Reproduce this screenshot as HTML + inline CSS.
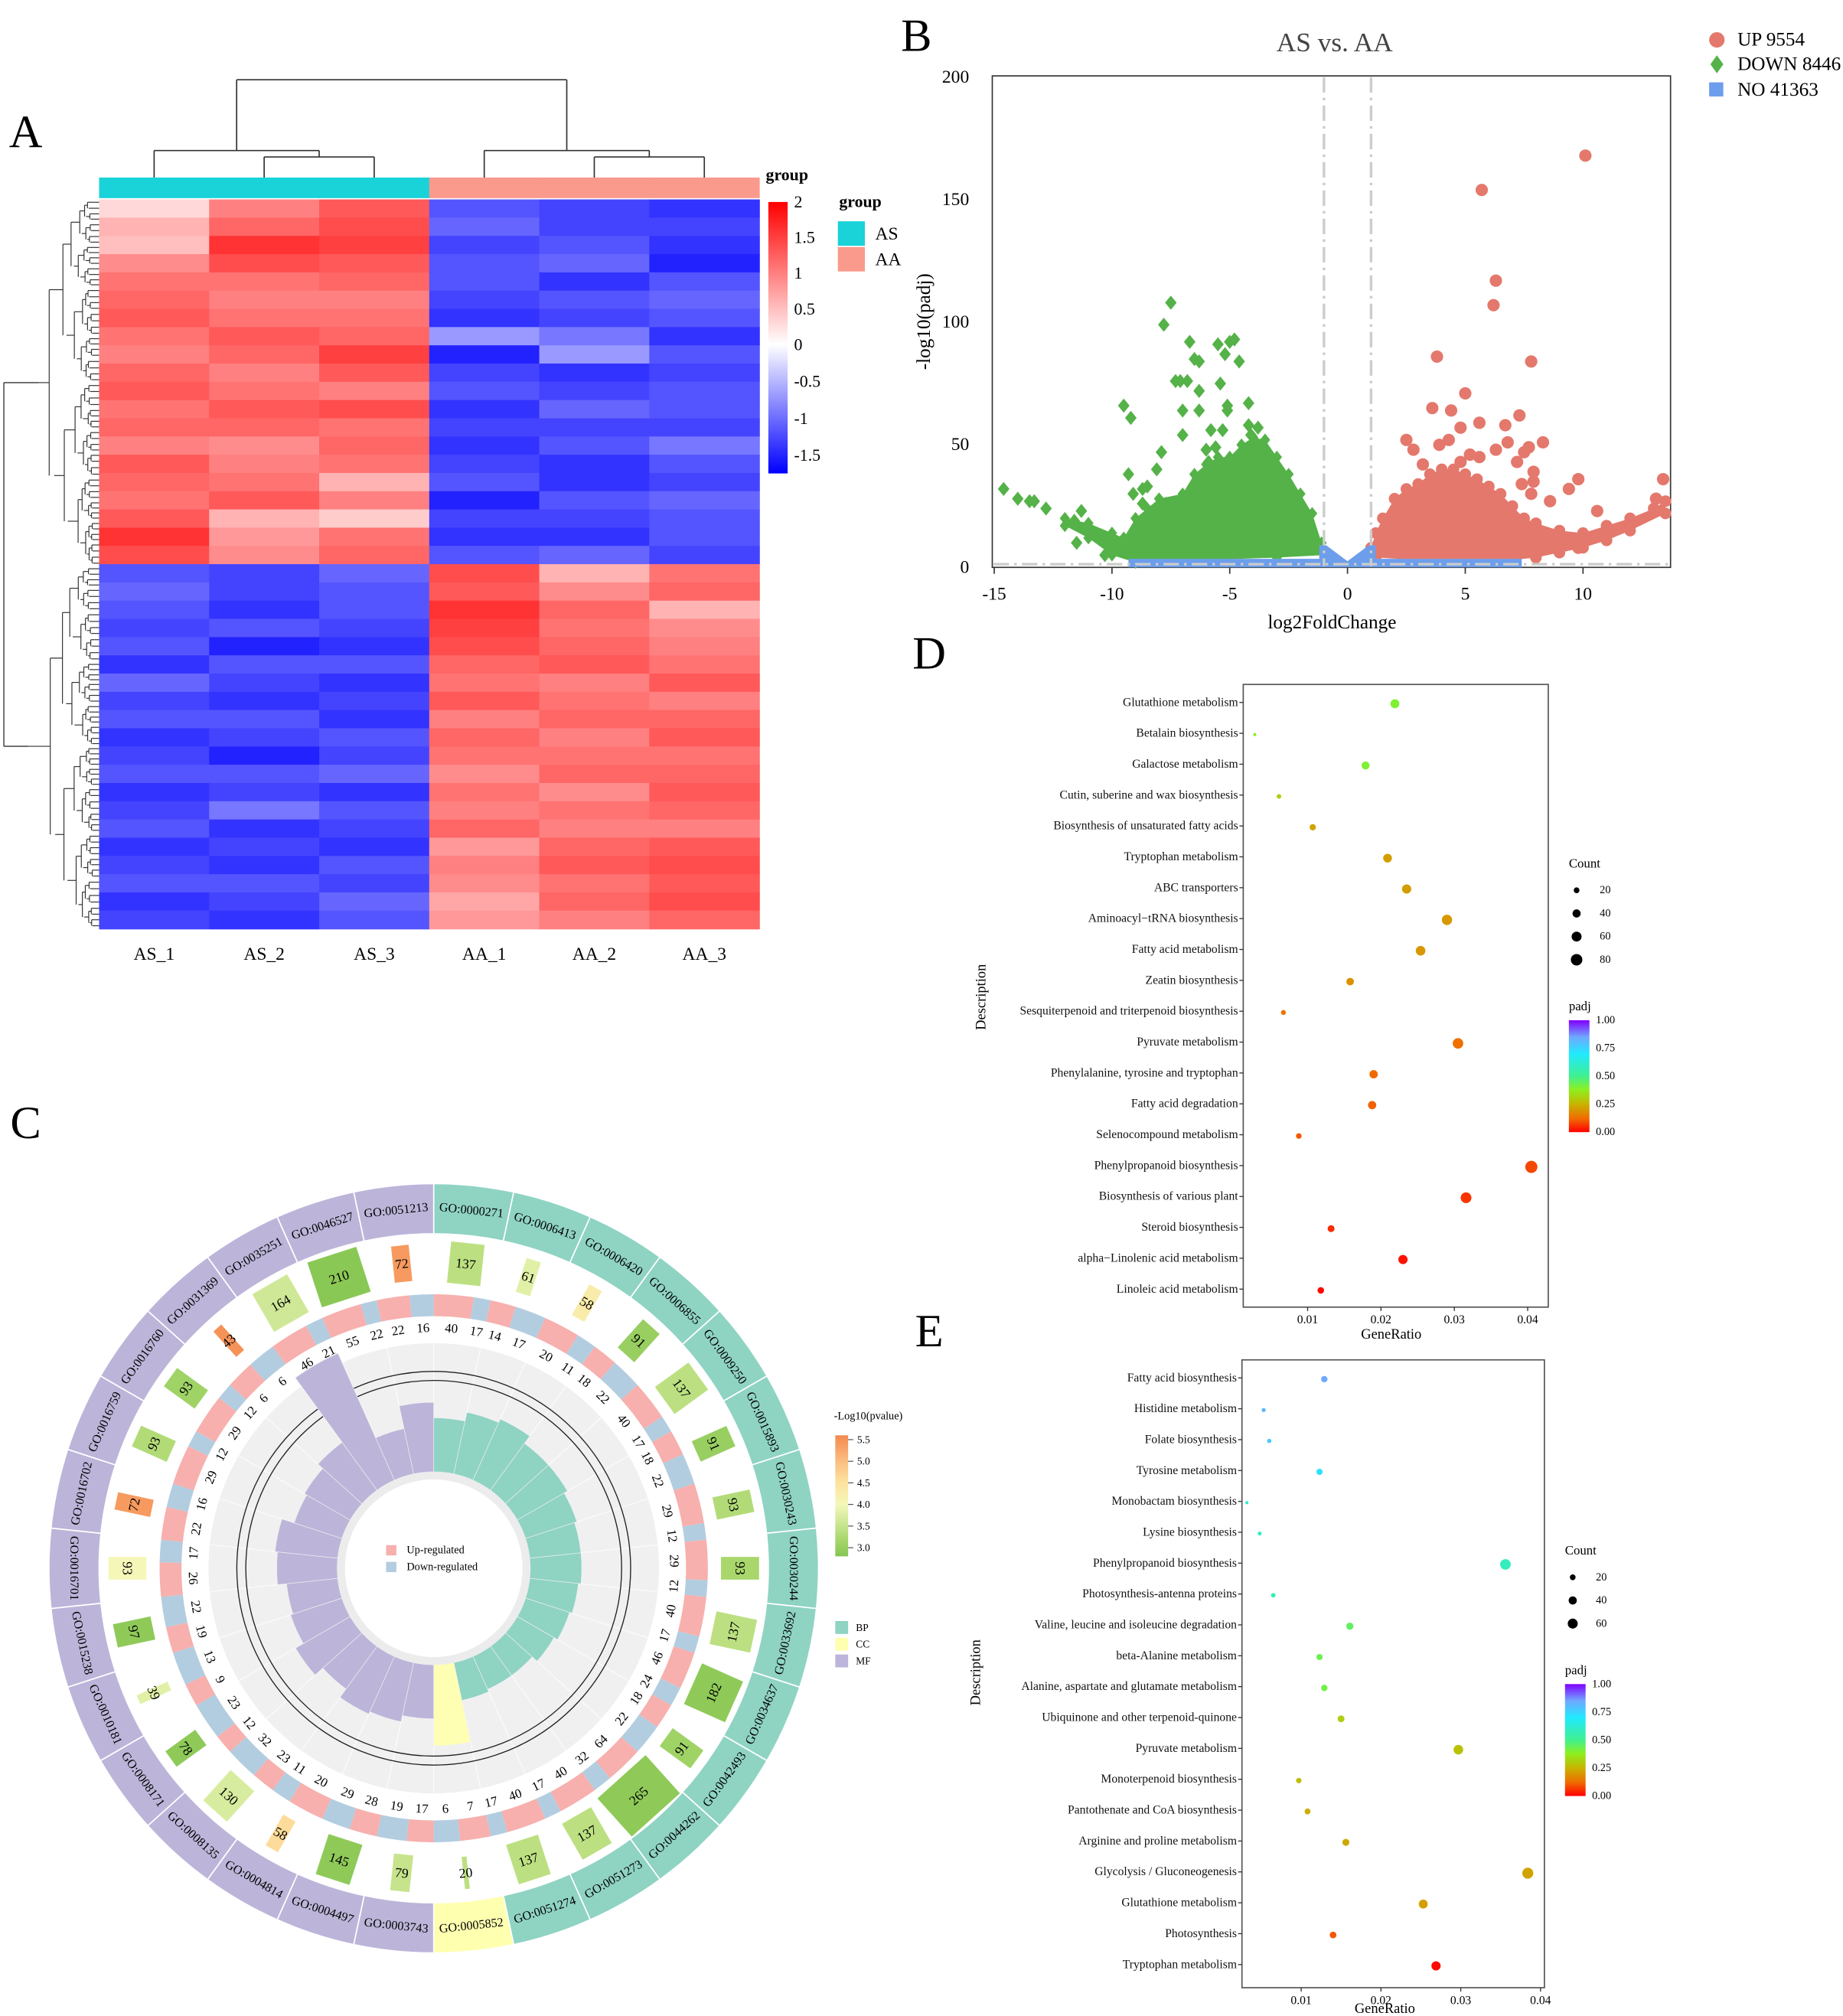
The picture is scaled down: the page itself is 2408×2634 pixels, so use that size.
<!DOCTYPE html>
<html><head><meta charset="utf-8"><title>Transcriptome figure</title>
<style>
html,body{margin:0;padding:0;background:#fff;}
svg{display:block;font-family:"Liberation Serif",serif;}
</style></head>
<body>
<svg id="fig" xmlns="http://www.w3.org/2000/svg" width="2408" height="2634" viewBox="0 0 1432 1567" preserveAspectRatio="none">
<rect x="0" y="0" width="1432" height="1567" fill="#fff"/>
</svg>
<script>
// ---------------- DATA ----------------
const heatCols = ["AS_1","AS_2","AS_3","AA_1","AA_2","AA_3"];
const heatValues = [
[0.3,1.0,1.3,-1.0,-1.1,-1.2],[0.6,1.2,1.4,-0.9,-1.1,-1.1],[0.5,1.6,1.5,-1.1,-1.0,-1.2],[0.9,1.4,1.3,-1.0,-0.9,-1.3],
[1.1,1.1,1.2,-1.0,-1.2,-1.0],[1.2,1.0,1.0,-1.1,-1.0,-0.9],[1.3,1.1,1.1,-1.2,-1.1,-1.0],[1.1,1.3,1.2,-0.6,-0.8,-1.2],
[1.0,1.2,1.5,-1.3,-0.6,-1.0],[1.2,1.0,1.3,-1.1,-1.2,-1.1],[1.3,1.1,1.0,-1.0,-1.1,-1.0],[1.1,1.3,1.4,-1.2,-0.9,-1.0],
[1.2,1.2,1.1,-1.1,-1.1,-1.1],[1.0,0.9,1.2,-1.2,-1.0,-0.8],[1.3,1.0,1.1,-1.1,-1.2,-1.0],[1.2,1.1,0.6,-1.0,-1.2,-1.1],
[1.1,1.3,1.0,-1.3,-1.0,-0.9],[1.3,0.6,0.4,-1.1,-1.1,-1.0],[1.6,0.8,1.1,-1.2,-1.2,-1.0],[1.4,0.9,1.2,-1.0,-0.9,-1.1],
[-1.0,-1.1,-0.9,1.4,0.6,1.1],[-0.9,-1.1,-1.0,1.3,0.9,1.2],[-1.0,-1.2,-1.0,1.6,1.2,0.6],[-1.1,-1.0,-1.1,1.5,1.1,0.9],
[-1.0,-1.3,-1.2,1.4,1.2,1.0],[-1.2,-1.0,-1.0,1.2,1.3,1.1],[-0.9,-1.1,-1.2,1.1,1.0,1.3],[-1.1,-1.2,-1.1,1.3,1.1,1.0],
[-1.0,-1.0,-1.2,1.0,1.2,1.2],[-1.2,-1.1,-1.0,1.2,1.0,1.3],[-1.1,-1.3,-1.1,1.1,1.1,1.1],[-1.0,-1.0,-0.9,0.9,1.2,1.2],
[-1.2,-1.1,-1.2,1.1,0.9,1.3],[-1.1,-0.8,-1.0,1.0,1.1,1.2],[-1.0,-1.2,-1.1,1.2,1.0,1.0],[-1.2,-1.1,-1.2,0.8,1.2,1.3],
[-1.1,-1.2,-1.0,1.0,1.3,1.4],[-1.0,-1.0,-1.1,0.9,1.1,1.3],[-1.2,-1.1,-0.9,0.7,1.2,1.4],[-1.1,-1.2,-1.0,0.8,1.0,1.2]
];
const heatTicks = [2,1.5,1,0.5,0,-0.5,-1,-1.5];

const volXTicks = [-15,-10,-5,0,5,10];
const volYTicks = [0,50,100,150,200];
const downX = [-14.6,-14,-13.5,-13.3,-12.8,-11.3,-11.6,-11.5,-9.5,-9.2,-9.3,-9.1,-8.7,-8.5,-8.7,-7.9,-8.1,-7.7,-7.5,-7.8,-7.3,-7.1,-7.0,-7.0,-6.7,-6.8,-6.5,-6.3,-6.3,-6.3,-5.9,-5.8,-5.5,-5.4,-5.2,-5.0,-4.8,-5.1,-5.1,-4.6,-4.2,-4.2,-4.1,-3.8,-3.7,-3.4,-5.3,-5.6,-6.0,-10.3,-9.9];
const downY = [32,28,27,27,24,23,19,10,66,61,38,30,32,33,26,47,40,26,108,99,76,76,64,54,92,76,85,84,72,64,43,56,91,75,87,92,93,66,64,84,67,58,54,57,44,36,56,49,48,5,7];
const upX = [10.1,5.7,6.3,6.2,3.8,7.8,5.0,3.6,4.4,7.3,5.6,6.7,4.8,4.3,2.5,2.8,8.3,6.8,6.3,7.7,7.5,3.2,4.8,5.6,7.2,7.9,7.9,9.8,9.4,8.6,13.4,13.1,10.6,9.8,7.8,7.4,3.9,5.2];
const upY = [168,154,117,107,86,84,71,65,64,62,59,58,57,52,52,48,51,51,48,49,47,42,43,45,43,39,35,36,32,27,36,28,23,8,30,34,50,46];
const downEnvX = [-12,-11,-10,-9.5,-9,-8.5,-8,-7,-6.5,-6,-5.5,-5,-4.5,-4,-3.5,-3,-2.5,-2,-1.5,-1.1,-1.0,-1.0,-3,-6,-8,-9,-10,-11,-12];
const downEnvY = [20,18,14,12,20,24,28,30,38,42,45,45,50,53,52,45,38,30,22,10,6,5,4,3,3,2,5,12,17];
const upEnvX = [1.0,1.2,1.5,2,2.5,3,3.5,4,4.5,5,5.5,6,6.5,7,7.5,8,9,10,11,12,13,13.5,13.5,12,11,10,9,8,7,5,3,1.2];
const upEnvY = [8,14,20,28,32,34,38,40,40,38,36,33,30,25,20,18,15,14,17,20,24,27,22,15,11,8,6,4,3,3,3,4];
const noEnvX = [-9.3,-9.3,-1.2,-1.2,-0.9,0,0.9,1.2,1.2,7.4,7.4];
const noEnvY = [0,3.5,3.5,9,9,2.5,9,9,3.5,3.5,0];

const goIds = ["GO:0000271","GO:0006413","GO:0006420","GO:0006855","GO:0009250","GO:0015893","GO:0030243","GO:0030244","GO:0033692","GO:0034637","GO:0042493","GO:0044262","GO:0051273","GO:0051274","GO:0005852","GO:0003743","GO:0004497","GO:0004814","GO:0008135","GO:0008171","GO:0010181","GO:0015238","GO:0016701","GO:0016702","GO:0016759","GO:0016760","GO:0031369","GO:0035251","GO:0046527","GO:0051213"];
const goCategory = ["BP","BP","BP","BP","BP","BP","BP","BP","BP","BP","BP","BP","BP","BP","CC","MF","MF","MF","MF","MF","MF","MF","MF","MF","MF","MF","MF","MF","MF","MF"];
const goCounts = [137,61,58,91,137,91,93,93,137,182,91,265,137,137,20,79,145,58,130,78,39,97,93,72,93,93,43,164,210,72];
const goLogP = [3.4,3.8,4.3,3.0,3.4,3.0,3.3,3.2,3.4,2.9,3.1,2.9,3.4,3.4,3.4,3.5,2.9,4.6,3.7,2.9,3.8,2.9,4.0,5.4,3.3,3.1,5.5,3.6,2.85,5.4];
const goUp = [40,14,20,18,40,18,29,29,40,46,18,64,40,40,7,17,28,20,23,12,9,19,26,22,29,29,6,46,55,22];
const goDown = [17,17,11,22,17,22,12,12,17,24,22,32,17,17,6,19,29,11,32,23,13,22,17,16,12,12,6,21,22,16];
const goRich = [42,49,52,45,45,42,40,40,38,36,33,28,28,30,63,42,47,49,41,49,42,40,47,49,39,41,46,108,36,54];
const cLegendTicks = [5.5,5.0,4.5,4.0,3.5,3.0];

const dLabels = ["Glutathione metabolism","Betalain biosynthesis","Galactose metabolism","Cutin, suberine and wax biosynthesis","Biosynthesis of unsaturated fatty acids","Tryptophan metabolism","ABC transporters","Aminoacyl\u2212tRNA biosynthesis","Fatty acid metabolism","Zeatin biosynthesis","Sesquiterpenoid and triterpenoid biosynthesis","Pyruvate metabolism","Phenylalanine, tyrosine and tryptophan","Fatty acid degradation","Selenocompound metabolism","Phenylpropanoid biosynthesis","Biosynthesis of various plant","Steroid biosynthesis","alpha\u2212Linolenic acid metabolism","Linoleic acid metabolism"];
const dRatio = [0.0219,0.0028,0.0179,0.0061,0.0107,0.0209,0.0235,0.029,0.0254,0.0158,0.0067,0.0305,0.019,0.0188,0.0088,0.0405,0.0316,0.0132,0.023,0.0118];
const dCount = [48,6,39,13,24,46,52,64,56,35,15,67,42,41,19,89,70,29,51,26];
const dPadj = [0.40,0.38,0.40,0.31,0.22,0.21,0.21,0.2,0.2,0.19,0.14,0.13,0.12,0.11,0.1,0.08,0.06,0.05,0.02,0.01];
const eLabels = ["Fatty acid biosynthesis","Histidine metabolism","Folate biosynthesis","Tyrosine metabolism","Monobactam biosynthesis","Lysine biosynthesis","Phenylpropanoid biosynthesis","Photosynthesis-antenna proteins","Valine, leucine and isoleucine degradation","beta-Alanine metabolism","Alanine, aspartate and glutamate metabolism","Ubiquinone and other terpenoid-quinone","Pyruvate metabolism","Monoterpenoid biosynthesis","Pantothenate and CoA biosynthesis","Arginine and proline metabolism","Glycolysis / Gluconeogenesis","Glutathione metabolism","Photosynthesis","Tryptophan metabolism"];
const eRatio = [0.0129,0.0053,0.006,0.0123,0.0032,0.0048,0.0356,0.0065,0.0161,0.0123,0.0129,0.015,0.0297,0.0097,0.0108,0.0156,0.0384,0.0253,0.014,0.0269];
const eCount = [25,10,11,23,6,9,68,12,31,23,25,28,56,18,21,30,73,48,27,51];
const ePadj = [0.85,0.82,0.78,0.72,0.6,0.6,0.58,0.57,0.45,0.43,0.42,0.31,0.28,0.27,0.24,0.23,0.22,0.21,0.1,0.01];
const dotXTicks = [0.01,0.02,0.03,0.04];
const countLegendD = [20,40,60,80];
const countLegendE = [20,40,60];
const padjTicks = [1.00,0.75,0.50,0.25,0.00];

// ---------------- HELPERS ----------------
const NS='http://www.w3.org/2000/svg';
const root=document.getElementById('fig');
function mk(tag,attrs,parent){const e=document.createElementNS(NS,tag);for(const k in attrs)e.setAttribute(k,attrs[k]);(parent||root).appendChild(e);return e;}
function txt(s,x,y,attrs,parent){const e=mk('text',Object.assign({x:x,y:y},attrs||{}),parent);e.textContent=s;return e;}
function lerpHex(a,b,t){const pa=[1,3,5].map(i=>parseInt(a.substr(i,2),16)),pb=[1,3,5].map(i=>parseInt(b.substr(i,2),16));return 'rgb('+pa.map((v,i)=>Math.round(v+(pb[i]-v)*t)).join(',')+')';}
function gradColor(stops,v){if(v<=stops[0][0])return stops[0][1];for(let i=1;i<stops.length;i++){if(v<=stops[i][0]){const t=(v-stops[i-1][0])/(stops[i][0]-stops[i-1][0]);return lerpHex(stops[i-1][1],stops[i][1],t);}}return stops[stops.length-1][1];}
function group(name){const g=mk('g',{});return g;}

// panel letters
[["A",20,103],["B",712,28],["C",20,873],["D",722,508],["E",722,1035]].forEach(p=>{
  const t=txt(p[0],p[1],p[2],{'font-size':36,'text-anchor':'middle','dominant-baseline':'central',fill:'#000'});
  
  
});

// ---------------- PANEL A: HEATMAP ----------------
(function(){
  const g=group('heatmap-panel');
  const x0=77,x1=590,y0=155,y1=722;
  const cw=(x1-x0)/heatCols.length, rh=(y1-y0)/heatValues.length;
  function hcol(v){ if(v>=0){const t=Math.min(v/2,1);return lerpHex('#ffffff','#ff0000',t);} const t=Math.min(-v/1.5,1);return lerpHex('#ffffff','#0000ff',t);}
  heatValues.forEach((row,i)=>{row.forEach((v,j)=>{
    const r=mk('rect',{x:x0+j*cw,y:y0+i*rh,width:cw+0.4,height:rh+0.4,fill:hcol(v)},g);
    
    
  });});
  heatCols.forEach((c,j)=>{
    const b=mk('rect',{x:x0+j*cw,y:138,width:cw+0.3,height:16,fill:c.startsWith('AS')?'#19d3d9':'#fa9a8c'},g);
    
    
    const t=txt(c,x0+(j+0.5)*cw,742,{'font-size':14,'text-anchor':'middle','dominant-baseline':'central'},g);
    
    
  });
  const cx=j=>x0+(j+0.5)*cw;
  const dl=[[cx(1),138,cx(1),122],[cx(2),138,cx(2),122],[cx(1),122,cx(2),122],[cx(0),138,cx(0),117],[(cx(1)+cx(2))/2,122,(cx(1)+cx(2))/2,117],[cx(0),117,(cx(1)+cx(2))/2,117],
            [cx(4),138,cx(4),122],[cx(5),138,cx(5),122],[cx(4),122,cx(5),122],[cx(3),138,cx(3),117],[(cx(4)+cx(5))/2,122,(cx(4)+cx(5))/2,117],[cx(3),117,(cx(4)+cx(5))/2,117]];
  const asMid=(cx(0)+(cx(1)+cx(2))/2)/2, aaMid=(cx(3)+(cx(4)+cx(5))/2)/2;
  dl.push([asMid,117,asMid,62],[aaMid,117,aaMid,62],[asMid,62,aaMid,62]);
  const cd=group('column-dendrogram');
  dl.forEach(l=>{const e=mk('line',{x1:l[0],y1:l[1],x2:l[2],y2:l[3],stroke:'#333','stroke-width':1},cd);});
  const rd=group('row-dendrogram');
  const fr=[0.35,0.55,0.45,0.62,0.5,0.4,0.58,0.48,0.66,0.38];
  let k=0;
  function node(ya,yb,x,depth){
    if(depth===0){const ym=(ya+yb)/2;const e=mk('line',{x1:x,y1:ym,x2:77,y2:ym,stroke:'#333','stroke-width':0.7},rd);return ym;}
    const f=fr[(k++)%fr.length];const split=ya+(yb-ya)*(0.4+0.2*fr[(k+3)%fr.length]);
    const cxn=x+(77-x)*f*0.5;
    const a=node(ya,split,cxn,depth-1), b=node(split,yb,cxn+(77-cxn)*0.1,depth-1);
    let e=mk('line',{x1:cxn,y1:a,x2:cxn,y2:b,stroke:'#333','stroke-width':0.7},rd);
    const m=(a+b)/2;
    e=mk('line',{x1:x,y1:m,x2:cxn,y2:m,stroke:'#333','stroke-width':0.7},rd);
    return m;
  }
  const top=node(y0,440,30,6), bot=node(440,y1,22,6);
  let e=mk('line',{x1:3,y1:top,x2:3,y2:bot,stroke:'#333','stroke-width':0.8},rd);
  e=mk('line',{x1:3,y1:top,x2:30,y2:top,stroke:'#333','stroke-width':0.8},rd);
  e=mk('line',{x1:3,y1:bot,x2:22,y2:bot,stroke:'#333','stroke-width':0.8},rd);
  const defs=mk('defs',{});
  const lg=mk('linearGradient',{id:'hmgrad',x1:0,y1:0,x2:0,y2:1},defs);
  mk('stop',{offset:'0','stop-color':'#ff0000'},lg);mk('stop',{offset:'0.525','stop-color':'#ffffff'},lg);mk('stop',{offset:'1','stop-color':'#0000ff'},lg);
  const lgd=group('heatmap-legend');
  let t=txt('group',595,140,{'font-size':13,'font-weight':'bold'},lgd);
  const cb=mk('rect',{x:597,y:157,width:15,height:211,fill:'url(#hmgrad)'},lgd);
  const ys=v=>268-(v/2)*111;
  heatTicks.forEach(v=>{const yy=v>=0?ys(v):268+(-v/1.5)*86;const tt=txt(String(v),617,yy,{'font-size':13,'dominant-baseline':'central'},lgd);});
  t=txt('group',652,161,{'font-size':13,'font-weight':'bold'},lgd);
  [['AS','#19d3d9',172],['AA','#fa9a8c',192]].forEach(a=>{
    const r=mk('rect',{x:651,y:a[2],width:21,height:19,fill:a[1]},lgd);
    const tt=txt(a[0],680,a[2]+10,{'font-size':14,'dominant-baseline':'central'},lgd);
  });
})();

// ---------------- PANEL B: VOLCANO ----------------
(function(){
  const g=group('volcano-panel');
  const xB=v=>1047+v*18.3, yB=v=>441-v*1.905;
  let t=txt('AS vs. AA',1037,33,{'font-size':21,'text-anchor':'middle','dominant-baseline':'central',fill:'#444'},g);
  const frame=mk('rect',{x:771,y:59,width:527,height:382,fill:'#fff',stroke:'#333','stroke-width':1},g);
  function poly(xs,ys,fill,name){const pts=xs.map((x,i)=>xB(x)+','+yB(ys[i])).join(' ');const p=mk('polygon',{points:pts,fill:fill},g);}
  poly(downEnvX,downEnvY,'#54b248','down-cloud');
  poly(upEnvX,upEnvY,'#e4786c','up-cloud');
  downEnvX.forEach((x,i)=>{const cx=xB(x),cy=yB(downEnvY[i]);const d=mk('polygon',{points:`${cx},${cy-5} ${cx+4},${cy} ${cx},${cy+5} ${cx-4},${cy}`,fill:'#54b248'},g);});
  upEnvX.forEach((x,i)=>{const c=mk('circle',{cx:xB(x),cy:yB(upEnvY[i]),r:4.5,fill:'#e4786c'},g);});
  poly(noEnvX,noEnvY,'#6d9eeb','no-change-band');
  downX.forEach((x,i)=>{const cx=xB(x),cy=yB(downY[i]);const d=mk('polygon',{points:`${cx},${cy-5.5} ${cx+4.5},${cy} ${cx},${cy+5.5} ${cx-4.5},${cy}`,fill:'#54b248'},g);});
  upX.forEach((x,i)=>{const c=mk('circle',{cx:xB(x),cy:yB(upY[i]),r:4.8,fill:'#e4786c'},g);});
  [-1,1].forEach(v=>{const l=mk('line',{x1:xB(v),y1:60,x2:xB(v),y2:440,stroke:'#ccc','stroke-width':2,'stroke-dasharray':'12,4,2,4'},g);});
  let l=mk('line',{x1:772,y1:yB(1.3),x2:1297,y2:yB(1.3),stroke:'#ccc','stroke-width':2,'stroke-dasharray':'12,4,2,4'},g);
  volXTicks.forEach(v=>{const tk=mk('line',{x1:xB(v),y1:441,x2:xB(v),y2:446,stroke:'#333'},g);
    const tt=txt(String(v),xB(v),462,{'font-size':14,'text-anchor':'middle','dominant-baseline':'central'},g);});
  volYTicks.forEach(v=>{const tt=txt(String(v),753,yB(v),{'font-size':14,'text-anchor':'end','dominant-baseline':'central'},g);});
  t=txt('log2FoldChange',1035,484,{'font-size':15,'text-anchor':'middle','dominant-baseline':'central'},g);
  t=txt('-log10(padj)',718,250,{'font-size':15,'text-anchor':'middle','dominant-baseline':'central',transform:'rotate(-90 718 250)'},g);
  const lg=group('volcano-legend');
  let c=mk('circle',{cx:1334,cy:31,r:6,fill:'#e4786c'},lg);
  c=mk('polygon',{points:'1334,43 1339,50 1334,57 1329,50',fill:'#54b248'},lg);
  c=mk('rect',{x:1328,y:64,width:11,height:11,fill:'#6d9eeb'},lg);
  [['UP 9554',31],['DOWN 8446',50],['NO 41363',70]].forEach(a=>{const tt=txt(a[0],1350,a[1],{'font-size':15,'dominant-baseline':'central'},lg);});
})();

// ---------------- PANEL C: GO CIRCLE ----------------
(function(){
  const g=group('go-circle-panel');
  const CX=337,CY=1219,N=goIds.length,step=360/N;
  const P=(r,a)=>[CX+r*Math.sin(a*Math.PI/180),CY-r*Math.cos(a*Math.PI/180)];
  function sector(r0,r1,a0,a1){const p1=P(r1,a0),p2=P(r1,a1),p3=P(r0,a1),p4=P(r0,a0);const la=(a1-a0)>180?1:0;
    return `M${p1[0]},${p1[1]} A${r1},${r1} 0 ${la} 1 ${p2[0]},${p2[1]} L${p3[0]},${p3[1]} A${r0},${r0} 0 ${la} 0 ${p4[0]},${p4[1]} Z`;}
  const rot=a=>(a>90&&a<270)?a-180:(a>=270?a-360:a);
  const rotL=a=>(a===270)?90:rot(a);
  const catCol={BP:'#8fd3c3',CC:'#ffffb0',MF:'#bcb5d9'};
  const pStops=[[2.8,'#86c653'],[3.2,'#a9d76c'],[3.6,'#cfe897'],[4.0,'#f4f7b8'],[4.5,'#fde3a0'],[5.0,'#fbbd80'],[5.6,'#f4894f']];
  let e=mk('circle',{cx:CX,cy:CY,r:175,fill:'#f0f0f0'},g);
  for(let i=0;i<N;i++){const a=P(75,i*step),b=P(175,i*step);e=mk('line',{x1:a[0],y1:a[1],x2:b[0],y2:b[1],stroke:'#fafafa','stroke-width':0.8},g);}
  [153,146].forEach(r=>{e=mk('circle',{cx:CX,cy:CY,r:r,fill:'none',stroke:'#222','stroke-width':0.8},g);});
  goIds.forEach((id,i)=>{
    const a0=i*step,a1=(i+1)*step,am=a0+step/2;
    let s=mk('path',{d:sector(260,299,a0,a1),fill:catCol[goCategory[i]],stroke:'#fff','stroke-width':1},g);
    const lp=P(279.5,am);
    let t=txt(id,lp[0],lp[1],{'font-size':9.6,'text-anchor':'middle','dominant-baseline':'central',transform:`rotate(${rotL(am)} ${lp[0]} ${lp[1]})`},g);
    const bp=P(238,am),w=Math.max(3,goCounts[i]*0.19),h=24+goCounts[i]*0.06;
    const bg=mk('g',{transform:`translate(${bp[0]},${bp[1]}) rotate(${rotL(am)})`},g);
    s=mk('rect',{x:-w/2,y:-h/2,width:w,height:h,fill:gradColor(pStops,goLogP[i])},bg);
    t=txt(String(goCounts[i]),0,0,{'font-size':10.5,'text-anchor':'middle','dominant-baseline':'central'},bg);
    const tot=goUp[i]+goDown[i],am2=a0+step*goUp[i]/tot;
    s=mk('path',{d:sector(196,213,a0,am2),fill:'#f7b0ad'},g);
    s=mk('path',{d:sector(196,213,am2,a1),fill:'#b3cde0'},g);
    [[goUp[i],(a0+am2)/2],[goDown[i],(am2+a1)/2]].forEach(q=>{const p=P(187,q[1]);const tt=txt(String(q[0]),p[0],p[1],{'font-size':10,'text-anchor':'middle','dominant-baseline':'central',transform:`rotate(${rotL(q[1])} ${p[0]} ${p[1]})`},g);});
    s=mk('path',{d:sector(75,75+goRich[i],a0,a1),fill:goCategory[i]==='CC'?'#ffffb3':catCol[goCategory[i]],stroke:'#f0f0f0','stroke-width':0.4},g);
  });
  e=mk('circle',{cx:CX,cy:CY,r:75,fill:'#ececec'},g);
  e=mk('circle',{cx:CX,cy:CY,r:69,fill:'#fff'},g);
  [['Up-regulated','#f7b0ad',1205],['Down-regulated','#b3cde0',1218]].forEach(a=>{
    let r=mk('rect',{x:300,y:a[2]-4,width:8,height:8,fill:a[1]},g);
    const tt=txt(a[0],316,a[2],{'font-size':8.5,'dominant-baseline':'central'},g);
  });
  const defs=mk('defs',{});
  const lg=mk('linearGradient',{id:'pgrad',x1:0,y1:0,x2:0,y2:1},defs);
  pStops.slice().reverse().forEach(s=>{mk('stop',{offset:((5.6-s[0])/2.8).toFixed(3),'stop-color':s[1]},lg);});
  const lgg=group('pvalue-legend');
  let t=txt('-Log10(pvalue)',648,1101,{'font-size':8.5,'dominant-baseline':'central'},lgg);
  const yl=v=>1119+(5.5-v)*33.6;
  e=mk('rect',{x:649,y:yl(5.6),width:10,height:yl(2.8)-yl(5.6),fill:'url(#pgrad)'},lgg);
  cLegendTicks.forEach(v=>{e=mk('line',{x1:659,y1:yl(v),x2:663,y2:yl(v),stroke:'#333','stroke-width':0.6},lgg);
    const tt=txt(v.toFixed(1),666,yl(v),{'font-size':8,'dominant-baseline':'central'},lgg);});
  [['BP',1265],['CC',1278],['MF',1291]].forEach(a=>{
    const r=mk('rect',{x:649,y:a[1]-5,width:10,height:10,fill:catCol[a[0]]},lgg);
    const tt=txt(a[0],665,a[1],{'font-size':8,'dominant-baseline':'central'},lgg);
  });
})();

// ---------------- PANELS D & E: DOT PLOTS ----------------
const rainbow=[[0,'#ff0000'],[0.12,'#f06a00'],[0.25,'#c8b400'],[0.38,'#8cf020'],[0.5,'#40f090'],[0.7,'#20eaff'],[0.85,'#70a8ff'],[1,'#8000ff']];
function dotPlot(name,labels,ratios,counts,padj,cfg,countLegend){
  const g=group(name);
  const xs=v=>cfg.x01+(v-0.01)*cfg.k;
  const rs=c=>Math.sqrt(c)*0.5;
  const fr=mk('rect',{x:cfg.left,y:cfg.top,width:cfg.right-cfg.left,height:cfg.bottom-cfg.top,fill:'#fff',stroke:'#555','stroke-width':1},g);
  labels.forEach((lab,i)=>{
    const y=cfg.row0+i*24;
    let e=mk('line',{x1:cfg.left-3,y1:y,x2:cfg.left,y2:y,stroke:'#333','stroke-width':0.8},g);
    const t=txt(lab,cfg.left-4,y,{'font-size':9.3,'text-anchor':'end','dominant-baseline':'central',fill:'#111'},g);
    const c=mk('circle',{cx:xs(ratios[i]),cy:y+1,r:rs(counts[i]),fill:gradColor(rainbow,padj[i])},g);
  });
  dotXTicks.forEach(v=>{let e=mk('line',{x1:xs(v),y1:cfg.bottom,x2:xs(v),y2:cfg.bottom+3,stroke:'#333','stroke-width':0.8},g);
    const t=txt(String(v),xs(v),cfg.bottom+10,{'font-size':9.3,'text-anchor':'middle','dominant-baseline':'central'},g);});
  let t=txt('GeneRatio',cfg.xTitle[0],cfg.xTitle[1],{'font-size':11,'text-anchor':'middle','dominant-baseline':'central'},g);
  t=txt('Description',cfg.yTitle[0],cfg.yTitle[1],{'font-size':11,'text-anchor':'middle','dominant-baseline':'central',transform:`rotate(-90 ${cfg.yTitle[0]} ${cfg.yTitle[1]})`},g);
  const L=cfg.leg;
  t=txt('Count',L.x,L.countY,{'font-size':10,'dominant-baseline':'central'},g);
  countLegend.forEach((c,i)=>{const y=L.countY+21+i*18;
    const d=mk('circle',{cx:L.x+6,cy:y,r:rs(c),fill:'#000'},g);
    const tt=txt(String(c),L.x+24,y,{'font-size':8.5,'dominant-baseline':'central'},g);});
  t=txt('padj',L.x,L.padjY,{'font-size':10,'dominant-baseline':'central'},g);
  const defs=mk('defs',{});
  const lg=mk('linearGradient',{id:name+'-grad',x1:0,y1:1,x2:0,y2:0},defs);
  rainbow.forEach(s=>mk('stop',{offset:s[0],'stop-color':s[1]},lg));
  const b0=L.padjY+11,b1=b0+87;
  let e=mk('rect',{x:L.x,y:b0,width:16,height:b1-b0,fill:`url(#${name}-grad)`},g);
  padjTicks.forEach(v=>{const y=b1-v*(b1-b0);
    const tt=txt(v.toFixed(2),L.x+21,y,{'font-size':8.5,'dominant-baseline':'central'},g);});
}
dotPlot('kegg-dotplot-d',dLabels,dRatio,dCount,dPadj,{left:966,right:1203,top:532,bottom:1016,row0:546,x01:1016,k:5700,xTitle:[1081,1037],yTitle:[762,775],leg:{x:1219,countY:671,padjY:782}},countLegendD);
dotPlot('kegg-dotplot-e',eLabels,eRatio,eCount,ePadj,{left:965,right:1200,top:1057,bottom:1545,row0:1071,x01:1011,k:6200,xTitle:[1076,1561],yTitle:[758,1300],leg:{x:1216,countY:1205,padjY:1298}},countLegendE);
</script>
</body></html>
